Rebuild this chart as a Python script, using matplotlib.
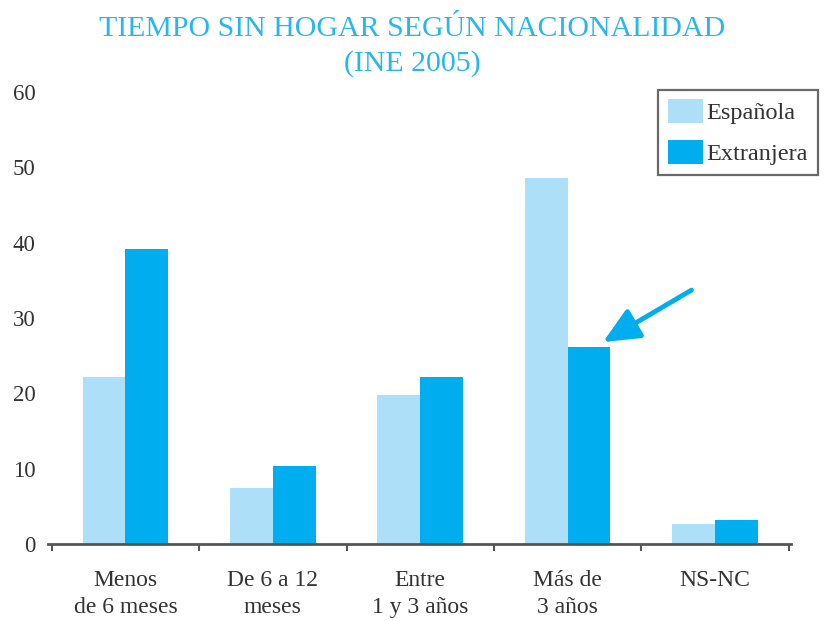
import numpy as np
import matplotlib
matplotlib.use("Agg")
import matplotlib.pyplot as plt

plt.rcParams['font.family'] = ['Liberation Serif', 'DejaVu Serif']

categorias = ["Menos\nde 6 meses", "De 6 a 12\nmeses", "Entre\n1 y 3 años", "Más de\n3 años", "NS-NC"]
espanola = [22.2, 7.4, 19.8, 48.6, 2.6]
extranjera = [39.1, 10.3, 22.2, 26.1, 3.2]
yticks = [0, 10, 20, 30, 40, 50, 60]

c_light = "#ade0f8"
c_dark = "#00aeef"
c_text = "#333333"

fig = plt.figure(figsize=(8.25, 6.21), dpi=100)
ax = fig.add_axes([48/825, 77/621, 743/825, 452/621])

x = np.arange(len(categorias))
w = 0.29
ax.bar(x - w/2, espanola, w, color=c_light, label="Española")
ax.bar(x + w/2, extranjera, w, color=c_dark, label="Extranjera")

ax.set_xlim(-0.525, 4.515)
ax.set_ylim(0, 60)
ax.set_yticks(yticks)
ax.set_yticklabels([str(v) for v in yticks], fontsize=16.5, color=c_text)
ax.tick_params(axis='y', length=0, pad=9)

# category labels in the middle, tick marks between groups
ax.set_xticks(np.arange(-0.5, 5, 1))
ax.set_xticklabels([])
ax.tick_params(axis='x', direction='out', length=5, width=1.5, color='#555555')
ax.set_xticks(x, minor=True)
ax.set_xticklabels(categorias, minor=True, fontsize=17, color=c_text, linespacing=1.35)
ax.tick_params(axis='x', which='minor', length=0, pad=19)

for s in ['top', 'right', 'left']:
    ax.spines[s].set_visible(False)
ax.spines['bottom'].set_color('#555555')
ax.spines['bottom'].set_linewidth(2)

leg = ax.legend(loc='upper right', bbox_to_anchor=(1.036, 1.005), borderaxespad=0,
                fontsize=17.5, frameon=True, fancybox=False, handlelength=1.45,
                handleheight=1.1, handletextpad=0.15, labelspacing=0.65, borderpad=0.4)
leg.get_frame().set_edgecolor('#444444')
leg.get_frame().set_linewidth(1.6)
for t in leg.get_texts():
    t.set_color(c_text)

ax.annotate("", xy=(3.24, 26.8), xytext=(3.84, 33.7),
            arrowprops=dict(arrowstyle="-|>,head_length=2.2,head_width=1.0",
                            color=c_dark, lw=3.5, shrinkA=0, shrinkB=0))

fig.text(0.5, 0.953, "TIEMPO SIN HOGAR SEGÚN NACIONALIDAD", ha='center', va='center',
         fontsize=21.5, color='#29b6ee')
fig.text(0.5, 0.898, "(INE 2005)", ha='center', va='center', fontsize=21.5, color='#29b6ee')

fig.savefig("out.png", dpi=100)
